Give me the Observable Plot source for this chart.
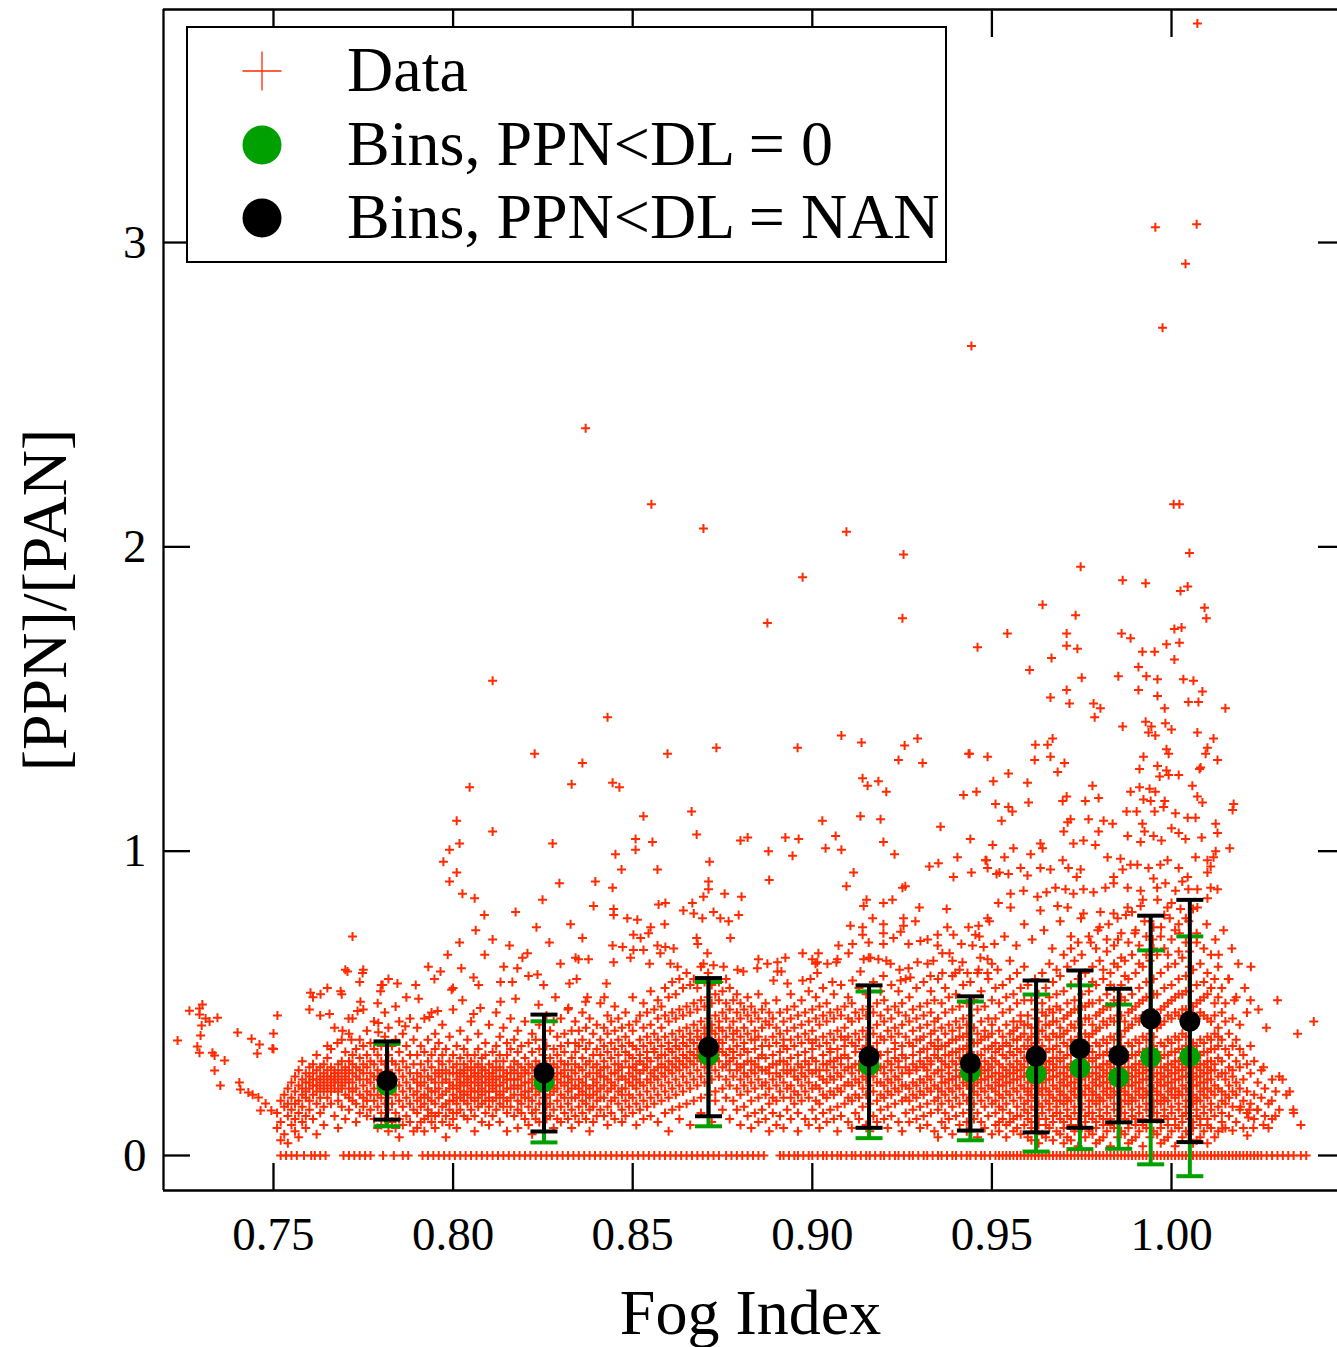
<!DOCTYPE html>
<html><head><meta charset="utf-8">
<script src="https://cdn.jsdelivr.net/npm/d3@7"></script>
<script src="https://cdn.jsdelivr.net/npm/@observablehq/plot@0.6"></script>
<style>
html,body{margin:0;padding:0;background:#fff;}
#wrap{position:relative;width:1337px;height:1347px;overflow:hidden;}
#legend{position:absolute;left:0;top:0;}
</style></head><body><div id="wrap"></div>
<script>
// ---------- axis / labels ----------
const xTicks = [0.75, 0.80, 0.85, 0.90, 0.95, 1.00];
const yTicks = [0, 1, 2, 3];
const xDomain = [0.71938, 1.04621];
const yDomain = [-0.1150, 3.7657];
const xTitle = "Fog Index";
const yTitle = "[PPN]/[PAN]";
const legendLabels = ["Data", "Bins, PPN<DL = 0", "Bins, PPN<DL = NAN"];

// ---------- binned statistics ----------
const binX     = [0.7816, 0.8253, 0.8711, 0.9158, 0.9440, 0.9623, 0.9745, 0.9853, 0.9942, 1.0051];
const nanMean  = [0.246, 0.272, 0.356, 0.325, 0.303, 0.326, 0.351, 0.329, 0.449, 0.441];
const nanLo    = [0.118, 0.079, 0.129, 0.091, 0.082, 0.076, 0.091, 0.109, 0.113, 0.044];
const nanHi    = [0.375, 0.463, 0.583, 0.559, 0.523, 0.575, 0.608, 0.548, 0.788, 0.840];
const zeroMean = [0.230, 0.241, 0.329, 0.296, 0.274, 0.268, 0.287, 0.257, 0.323, 0.325];
const zeroLo   = [0.096, 0.043, 0.096, 0.057, 0.050, 0.013, 0.021, 0.022, -0.029, -0.068];
const zeroHi   = [0.367, 0.441, 0.570, 0.539, 0.506, 0.529, 0.559, 0.496, 0.674, 0.720];

// ---------- raw data: left tail ----------
const leftTail = [[0.7233,0.378],[0.7266,0.476],[0.7294,0.483],[0.7294,0.463],[0.7302,0.496],[0.7300,0.427],[0.7311,0.450],[0.7297,0.394],[0.7288,0.358],[0.7294,0.338],[0.7322,0.440],[0.7344,0.453],[0.7330,0.338],[0.7336,0.329],[0.7364,0.312],[0.7336,0.279],[0.7352,0.230],[0.7400,0.404],[0.7439,0.384],[0.7461,0.365],[0.7455,0.335],[0.7497,0.352],[0.7500,0.401],[0.7405,0.240],[0.7408,0.217],[0.7430,0.207],[0.7442,0.200],[0.7458,0.191],[0.7478,0.171],[0.7494,0.148],[0.7464,0.148]];

// ---------- raw data: sparse points above the main cloud ----------
const sparseHigh = [[1.0072,3.72],[0.9955,3.05],[1.0070,3.06],[1.0039,2.93],[0.9975,2.72],[0.9443,2.66],[0.8369,2.39],[0.8552,2.14],[1.0006,2.14],[1.0022,2.14],[0.8697,2.06],[0.9095,2.05],[1.005,1.98],[0.9254,1.975],[0.9747,1.935],[0.8973,1.90],[0.9864,1.89],[0.9928,1.88],[1.0025,1.855],[1.0045,1.87],[1.0092,1.80],[1.0097,1.765],[0.9641,1.81],[0.9251,1.765],[0.9733,1.775],[0.8875,1.75],[0.9543,1.715],[0.9708,1.715],[0.9708,1.675],[0.9738,1.665],[0.946,1.67],[0.9666,1.635],[0.9605,1.595],[0.9861,1.715],[0.9886,1.70],[1.0008,1.73],[1.0028,1.735],[0.9919,1.655],[0.9953,1.655],[0.9986,1.68],[1.0022,1.685],[1.0008,1.63],[0.9908,1.605],[0.811,1.56],[0.9852,1.575],[0.993,1.575],[0.9961,1.565],[1.0033,1.565],[1.0061,1.56],[0.975,1.57],[0.9708,1.53],[0.9663,1.505],[0.9716,1.485],[0.9783,1.485],[0.9802,1.47],[0.9786,1.44],[0.9908,1.53],[0.9961,1.51],[0.9981,1.47],[1.0047,1.49],[1.0075,1.49],[1.0086,1.525],[1.015,1.47],[0.843,1.44]];

const sparseMid = [[0.9864,1.41],[0.9928,1.425],[0.9944,1.41],[0.9983,1.42],[1.0,1.40],[0.9936,1.39],[0.9955,1.38],[1.0072,1.39],[1.0117,1.37],[1.01,1.34],[1.0128,1.30],[1.0095,1.32],[1.0081,1.275],[0.9986,1.335],[0.9992,1.32],[0.9922,1.31],[0.9911,1.27],[0.9961,1.28],[0.9986,1.265],[0.9967,1.245],[0.9992,1.25],[1.002,1.25],[1.0078,1.27],[0.9438,1.32],[0.9488,1.31],[0.9621,1.35],[0.9655,1.35],[0.9669,1.37],[0.9619,1.30],[0.9663,1.31],[0.9702,1.29],[0.9683,1.26],[0.9504,1.23],[0.9546,1.255],[0.9599,1.225],[0.9421,1.185],[0.9457,1.195],[0.951,1.155],[0.9546,1.145],[0.9557,1.13],[0.9527,1.10],[0.9602,1.16],[0.9708,1.18],[0.9697,1.165],[0.976,1.165],[0.978,1.215],[0.9797,1.175],[0.9886,1.195],[0.9911,1.21],[0.9939,1.205],[0.9955,1.195],[0.9922,1.17],[0.9942,1.165],[0.9981,1.165],[1.0058,1.215],[1.0072,1.18],[1.0086,1.16],[1.0173,1.155],[1.017,1.135],[0.9875,1.13],[0.9903,1.13],[0.9919,1.09],[0.9953,1.13],[0.9978,1.145],[1.0011,1.125],[1.0045,1.11],[1.0067,1.11],[1.0123,1.09],[1.0128,1.06],[1.0084,1.045],[1.0039,1.04],[1.002,1.06],[1.0,1.075],[0.9972,1.035],[0.995,1.05],[0.9925,1.065],[0.9914,1.03],[0.9878,1.05],[0.9797,1.065],[0.9769,1.105],[0.9811,1.10],[0.9836,1.09],[0.9727,1.025],[0.9755,1.035],[0.9788,1.02],[0.9719,1.105],[0.9711,1.095],[0.97,1.065],[0.9635,1.025],[0.9641,1.01],[0.9137,1.357],[0.9257,1.347],[0.9293,1.37],[0.924,1.30],[0.9307,1.29],[0.9435,1.32],[0.8227,1.32],[0.836,1.29],[0.8597,1.32],[0.8733,1.34],[0.8959,1.34],[0.9081,1.38],[0.833,1.22],[0.8444,1.225],[0.8463,1.21],[0.853,1.115],[0.8664,1.13],[0.8678,1.055],[0.8508,1.04],[0.8555,1.03],[0.8508,1.005],[0.8277,1.025],[0.88,1.035],[0.882,1.045],[0.8878,1.0],[0.8925,1.045],[0.8962,1.04],[0.9028,1.10],[0.9065,1.05],[0.9037,1.01],[0.9081,1.005],[0.9134,1.115],[0.919,1.105],[0.914,1.24],[0.9154,1.215],[0.9184,1.23],[0.9206,1.195],[0.9198,1.03],[0.9357,1.08],[0.944,1.04],[0.9502,1.02],[0.8046,1.21],[0.8110,1.065],[0.801,1.10],[0.8018,1.025],[0.799,1.005]];

const sparseLow = [[0.8452,0.99],[0.8714,0.965],[0.8469,0.94],[0.8569,0.94],[0.8296,0.895],[0.8396,0.90],[0.8444,0.88],[0.8711,0.90],[0.8711,0.875],[0.8756,0.86],[0.8803,0.85],[0.8697,0.85],[0.8391,0.82],[0.8447,0.81],[0.8447,0.79],[0.8327,0.76],[0.836,0.715],[0.8444,0.69],[0.8349,0.645],[0.8377,0.645],[0.8572,0.825],[0.8591,0.83],[0.8666,0.83],[0.867,0.795],[0.8641,0.805],[0.8725,0.80],[0.8744,0.78],[0.8694,0.78],[0.8485,0.78],[0.8513,0.775],[0.855,0.75],[0.8589,0.76],[0.8767,0.77],[0.8795,0.79],[0.8502,0.725],[0.8522,0.715],[0.8544,0.73],[0.8678,0.715],[0.8681,0.695],[0.8772,0.715],[0.8472,0.685],[0.8502,0.675],[0.853,0.675],[0.8569,0.69],[0.8591,0.685],[0.8614,0.68],[0.8708,0.665],[0.8577,0.665],[0.8447,0.635],[0.8494,0.65],[0.8547,0.63],[0.8605,0.63],[0.8625,0.62],[0.8697,0.63],[0.8725,0.625],[0.8753,0.62],
[0.8945,0.985],[0.888,0.905],[0.9115,0.93],[0.9095,0.885],[0.9229,0.99],[0.9404,0.98],[0.9482,0.97],[0.9326,0.95],[0.9351,0.96],[0.9393,0.915],[0.9443,0.93],[0.9488,0.945],[0.9513,0.925],[0.9251,0.88],[0.9259,0.885],[0.9298,0.815],[0.9374,0.81],[0.9518,0.83],[0.9287,0.77],[0.9254,0.78],[0.9254,0.755],[0.9246,0.735],[0.9198,0.76],[0.9168,0.78],[0.914,0.75],[0.9106,0.755],[0.9151,0.84],[0.9143,0.82],[0.9198,0.83],[0.9223,0.84],[0.9376,0.75],[0.9435,0.75],[0.9463,0.755],[0.9493,0.77],[0.9349,0.725],[0.9393,0.725],[0.9454,0.725],[0.9465,0.72],[0.9226,0.715],[0.9198,0.73],[0.9198,0.695],[0.914,0.725],[0.9112,0.695],[0.9073,0.69],[0.9101,0.665],[0.9157,0.70],[0.9268,0.695],[0.9301,0.705],[0.9321,0.71],[0.9349,0.69],[0.9382,0.665],[0.9415,0.695],[0.9446,0.69],[0.9477,0.685],[0.9507,0.695],[0.9362,0.665],[0.9337,0.64],[0.939,0.64],[0.9418,0.635],[0.9468,0.65],[0.9488,0.645],[0.9293,0.635],[0.9321,0.63],[0.9268,0.615],[0.9243,0.61],[0.9218,0.63],[0.9206,0.64],[0.9184,0.645],[0.9157,0.65],[0.9143,0.645],[0.907,0.645],[0.9067,0.635],[0.9014,0.635],[0.9,0.645],[0.9017,0.665],[0.8973,0.665],[0.9009,0.63],[0.9042,0.63],[0.8903,0.635],[0.8925,0.65],[0.885,0.645],[0.8875,0.63],[0.8847,0.615],[0.8903,0.605],[0.8914,0.605],[0.8792,0.61],[0.8808,0.605],[0.8892,0.575],[0.8931,0.565],[0.8973,0.575],[0.8995,0.58],[0.9014,0.60],[0.9056,0.57],[0.9112,0.575],[0.9134,0.605],[0.9162,0.65],[0.9198,0.59],[0.9246,0.575],[0.9273,0.585],[0.9329,0.59],[0.9362,0.60],[0.9398,0.60],[0.9432,0.60],[0.9463,0.61],[0.9488,0.60],[0.9516,0.61],
[0.9521,0.93],[0.9546,0.925],[0.958,0.945],[0.9599,0.92],[0.9635,0.945],[0.9663,0.94],[0.9697,0.97],[0.9713,0.945],[0.9747,0.94],[0.9736,0.915],[0.9822,0.98],[0.9858,0.975],[0.9839,0.915],[0.9864,0.94],[0.9886,0.955],[0.9905,0.955],[0.9936,0.945],[0.9969,0.955],[0.9989,0.97],[1.002,0.945],[1.0045,0.915],[1.0067,0.98],[1.01,0.97],[1.0117,0.98],[1.0109,0.95],[1.0123,1.0],[1.0162,1.01],[1.01,0.93],[1.0128,0.875],[1.0109,0.88],[1.0072,0.875],[1.0047,0.875],[1.0011,0.87],[0.9983,0.895],[0.995,0.91],[0.9914,0.87],[0.9878,0.88],[0.9839,0.895],[0.9816,0.88],[0.9783,0.865],[0.9755,0.875],[0.9727,0.86],[0.9705,0.875],[0.9677,0.88],[0.9652,0.865],[0.9627,0.85],[0.9588,0.87],[0.9552,0.86],[0.9488,0.78],[0.9552,0.815],[0.9635,0.805],[0.9683,0.82],[0.9711,0.815],[0.9755,0.795],[0.9802,0.80],[0.9839,0.795],[0.9878,0.815],[0.9914,0.82],[0.9961,0.84],[0.9989,0.815],[1.0025,0.81],[1.0072,0.815],[1.01,0.845],[0.9608,0.99],[0.956,1.01],[0.9535,0.98],[0.9485,0.97],
[0.9535,0.72],[0.9568,0.69],[0.959,0.76],[0.9612,0.71],[0.9645,0.74],[0.9668,0.68],[0.969,0.77],[0.972,0.72],[0.9748,0.78],[0.9775,0.70],[0.9795,0.74],[0.9825,0.76],[0.9851,0.71],[0.9873,0.79],[0.9898,0.73],[0.9925,0.77],[0.9948,0.71],[0.9971,0.75],[0.9995,0.78],[1.0022,0.73],[1.0048,0.77],[1.0071,0.72],[1.0098,0.76],[1.0122,0.71],[1.0145,0.74],[1.0168,0.68],[1.0186,0.63],[1.0131,0.66],[1.0158,0.58],[1.0204,0.55],[1.0221,0.62],[1.0175,0.51],[1.0242,0.48],[1.0264,0.42],
[1.0396,0.44],[1.0351,0.40],[1.0295,0.51],[1.022,0.51],[1.0256,0.29],[1.0309,0.25],[1.0329,0.21],[1.0279,0.18],[1.0192,0.16],[1.0217,0.15],[1.0239,0.15],[1.0214,0.125],[1.0256,0.10],[1.0289,0.13],[1.0339,0.15],[1.0228,0.09],[1.0211,0.066],[1.017,0.082],[1.0142,0.089],
[0.8207,0.665],[0.8341,0.65],[0.8179,0.615],[0.8235,0.595],[0.8210,0.59],[0.8132,0.57],[0.8165,0.57],[0.8252,0.56],[0.8057,0.585],[0.8071,0.56],[0.8324,0.565],[0.8344,0.58],[0.7965,0.605],[0.8023,0.615],[0.80,0.55],[0.7996,0.545],[0.8427,0.565],[0.8421,0.52],[0.8374,0.52],[0.8369,0.505],[0.8321,0.485],[0.8285,0.52],[0.8238,0.495],[0.8174,0.515],[0.8132,0.505],[0.8076,0.485],[0.8057,0.465],[0.8026,0.51],[0.7957,0.475],[0.7934,0.455],[0.7904,0.515],[0.7845,0.565],[0.7804,0.56],[0.7798,0.54],[0.7748,0.60],[0.7706,0.605],[0.7603,0.535],[0.7631,0.53],[0.7687,0.54],[0.7742,0.505],[0.7734,0.475],[0.7709,0.45],[0.7867,0.425],[0.7792,0.435],[0.7792,0.405],[0.7656,0.465],[0.7692,0.41],[0.7678,0.37],[0.7717,0.38],[0.765,0.36],[0.7511,0.46],[0.75,0.35],[0.772,0.72],
[0.7973,0.965],[0.799,0.90],[0.8026,0.86],[0.806,0.845],[0.801,0.93],[0.8110,0.71],[0.8157,0.69],[0.8193,0.65],[0.8063,0.74],[0.8088,0.66],[0.8141,0.62],[0.8268,0.70],[0.8232,0.75],[0.8174,0.80],[0.8249,0.84],[0.8299,0.63],[0.8087,0.79],[0.8018,0.70],[0.7985,0.66],[0.7948,0.58],[0.7896,0.56],[0.7931,0.62]];

// ---------- raw data: main cloud, one line per Fog Index column ----------
// first number: Fog Index x 1000; the rest: [PPN]/[PAN] x 100
const cloudColumns = `
751 14 9
752 18 11 5
753 20 16 7
754 22 13 4 17
755 19 24 10 15
756 21 26 12 8 17
757 23 18 14 28 6
758 25 20 16 11 22 31
759 24 19 27 13 21 9
760 26 22 18 29 15 24 48
761 23 27 20 25 12 30 52
762 25 21 28 17 23 33 7
763 22 26 24 19 29 14 46
764 27 23 25 21 30 16 10
765 24 28 22 26 19 32 55
766 26 23 29 25 21 17 35
767 25 28 22 27 24 13 42
768 27 24 26 30 21 18 9
769 23 28 25 22 31 16 38 53
770 26 24 29 27 20 34 12 61
771 25 22 28 19 31 15 40
772 24 27 21 30 18 33 45
773 22 26 29 17 35 11
774 25 20 28 32 14 38 57
775 23 27 19 30 16 36 61 48
776 21 25 29 18 33 13 41
777 24 20 27 31 15 37
778 22 26 18 30 12 35 44
779 20 25 28 16 33 9 50
780 23 19 27 31 14 36 56 10
781 21 26 17 30 12 39 47
782 24 19 28 15 33 8 42 58
783 22 27 17 31 11 36
784 20 25 14 30 9 38 49
785 23 18 28 12 34 44 6
786 21 26 16 31 10 40
787 19 24 13 29 36 52
788 22 17 27 11 33 45
789 20 25 15 30 38 8
790 14 21 27 33 9 18 42 24
791 16 23 30 11 36 19 26
792 12 20 28 34 17 45 24 8
793 15 22 31 26 13 38 19
794 18 25 11 33 21 29 47 14
795 13 21 27 35 17 24 9 40
796 19 26 14 31 22 37 28
797 16 24 30 11 20 43 27 33
798 21 17 28 35 13 25 6
799 18 24 31 15 22 39 27 10
800 20 27 14 33 23 18 29 48 12
801 22 17 30 25 19 36 27 14 9
802 24 19 28 21 32 15 26 41 23
803 21 27 18 30 24 13 35 28 20
804 25 20 29 23 17 33 26 12 38
805 22 28 19 26 31 15 24 44 21
806 26 21 29 18 24 33 13 27 8
807 23 19 27 30 21 16 35 25 40
808 20 26 22 29 17 32 24 11 28
809 24 18 28 21 33 26 14 37
810 21 27 19 25 30 16 23 43 10
811 26 22 29 18 24 34 13 27
812 23 19 28 31 21 15 36 25 47
813 20 26 17 29 23 33 11 39
814 24 21 28 16 31 19 42 26
815 22 27 18 25 33 14 37 8
816 19 25 29 16 22 35 27 45
817 25 20 28 13 31 23 38
818 22 18 27 30 15 25 41 9 34
819 20 26 14 29 23 36 17
820 24 19 28 12 32 21 44 27
821 21 27 16 30 24 37 10 19
822 18 25 29 22 14 34 40 7
823 23 20 28 15 31 26 38 12
824 26 21 17 30 11 35 24 43
825 22 27 14 29 19 33 8 38
826 19 24 30 16 27 36 12 46
827 24 20 28 13 32 22 41 17
828 21 26 15 30 23 35 9 44
829 25 18 29 12 33 22 39 27
830 20 27 16 31 24 36 11 45
831 23 19 28 14 34 26 40 30
832 26 21 17 30 12 37 24 48
833 22 28 15 32 25 41 19 9
834 19 27 23 34 13 30 44 37
835 25 20 29 16 36 22 41 11
836 21 28 14 32 24 38 18 47
837 23 30 17 26 35 12 42 20
838 27 19 31 22 37 15 45 8
839 20 25 33 16 29 40 23 11
840 24 30 18 35 21 43 13 27
841 22 28 33 15 26 38 19 50
842 26 19 31 23 36 13 42 29
843 21 29 16 34 25 40 10 46
844 27 22 32 18 37 24 44 14
845 23 30 19 35 27 41 12 49
846 28 21 33 17 38 25 45 30
847 22 29 15 36 26 42 11 20
848 25 31 18 34 22 39 47 13
849 20 27 33 16 29 43 24 37
850 26 32 19 36 23 41 14 52 29
851 22 28 35 17 30 44 25 10
852 27 33 20 38 24 46 15 31
853 23 30 36 18 28 42 12 50
854 29 21 34 25 39 16 47 32
855 24 31 37 19 27 43 13 54
856 28 34 22 40 26 48 17 35
857 25 32 20 38 29 45 11 51
858 30 23 36 27 42 18 49 33
859 26 33 21 39 29 46 14 55
860 31 24 37 28 44 19 52 35 8
861 27 34 22 40 30 47 15 57
862 32 25 38 29 45 20 53 36
863 28 35 23 41 31 48 16 58 12
864 33 26 39 30 46 21 55 37
865 29 36 24 42 32 49 17 60
866 34 27 40 31 47 22 56 38 10
867 30 37 25 43 33 50 18 58
868 35 28 41 32 48 23 55 39
869 31 38 26 44 34 51 19 62 14
870 36 29 42 33 49 24 57 40
871 32 39 27 45 35 52 20 60
872 37 30 43 34 50 25 56 41 11
873 33 40 28 46 36 53 21 18
874 38 31 44 35 51 26 57 42
875 34 41 29 47 37 22 15 54
876 30 39 25 45 33 50 19 58
877 35 28 42 31 48 23 12 55
878 32 38 26 44 34 51 18 40
879 28 36 22 41 30 47 15 53
880 33 25 39 29 45 20 10 50
881 30 37 23 42 27 48 16 35
882 26 34 21 40 31 46 13 52
883 31 24 38 28 44 18 9 49
884 27 35 22 41 30 47 14 38
885 32 25 39 29 45 19 11 53
886 28 36 23 42 33 48 15
887 24 32 20 38 28 44 12 50
888 29 22 36 27 43 17 8 47
889 25 33 19 39 30 45 14
890 30 23 37 27 42 18 10 51
891 26 34 21 40 31 47 13
892 31 24 38 28 44 19 9 36
893 27 35 22 41 30 48 15
894 23 32 19 38 28 45 12 53
895 28 21 36 26 42 17 49
896 25 33 20 39 30 46 14 8
897 29 23 37 27 43 18 51
898 26 34 21 40 31 47 12
899 30 24 38 28 44 19 10 54
900 27 35 22 41 32 48 15 37
901 23 31 18 38 28 45 12 52
902 28 22 36 26 43 17 9 49
903 25 33 20 39 30 46 14 55
904 30 24 37 28 44 19 11 50
905 26 34 21 40 31 47 15 35
906 31 25 38 29 45 20 12 53
907 27 35 22 41 32 48 16 8
908 32 26 39 30 46 21 13 56
909 28 36 23 42 33 49 17 38
910 24 32 19 39 29 45 11 52
911 29 23 37 27 44 18 9 50
912 25 34 20 40 30 47 14 36
913 30 24 38 28 45 19 12 55
914 26 35 22 41 31 48 16
915 31 25 39 29 46 20 10 53 36
916 27 36 23 42 33 49 17 8
917 32 26 40 30 47 21 13 57
918 28 37 24 43 34 50 18 11
919 24 33 20 39 29 46 15 54
920 29 23 38 27 44 19 12 51
921 25 34 21 41 31 48 16 9
922 30 24 39 28 45 20 13 56
923 26 35 22 42 32 49 17 37
924 31 25 40 29 47 21 11 54
925 27 36 23 43 33 50 18 8
926 23 32 19 39 29 46 14 58
927 28 22 37 27 44 18 11 52
928 24 33 20 41 30 48 15 36
929 29 23 38 28 45 19 12 55
930 25 34 21 42 31 49 16 9 38
931 30 24 39 29 46 20 13 57 35
932 26 35 22 43 32 50 17 10 28
933 31 25 40 30 47 21 14 54 37
934 27 36 23 44 33 51 18 8 41
935 22 32 19 38 28 45 15 58 35 6
936 28 21 36 26 42 17 11 50 31 24
937 24 33 20 40 30 47 14 55 36 9
938 29 22 37 27 43 18 12 52 33 25
939 25 34 21 41 31 48 16 7 38 59
940 30 23 38 28 44 19 13 53 34 26
941 26 35 22 42 32 49 17 10 39 61
942 31 24 39 29 45 20 14 56 35 27
943 27 36 23 43 33 50 18 8 40 11
944 22 32 19 38 28 46 15 57 34 25
945 28 21 37 26 42 17 12 51 31 23
946 24 33 20 40 30 48 14 6 37 60
947 29 22 38 27 44 18 11 54 33 25
948 25 35 21 41 31 49 16 9 39 28
949 30 23 39 28 45 19 13 58 35 26
950 26 36 22 43 32 51 17 7 40 29 63
951 21 31 18 37 27 45 14 55 34 24 10
952 27 20 35 25 41 16 11 50 30 23 8
953 23 33 19 39 29 47 15 56 36 26 12
954 28 21 37 26 43 17 10 52 32 24 6
955 24 34 20 40 30 48 14 58 36 27 11 64
956 29 22 38 27 44 18 12 53 33 25 8 41
957 25 35 21 42 31 50 16 9 38 28 60 13
958 30 23 39 28 46 19 13 55 34 26 7 44
959 26 36 22 43 32 51 17 10 40 29 62 15
960 21 31 18 38 27 46 14 56 35 24 6 12 43 20
961 27 20 36 25 42 16 11 51 31 22 5 29 39 9
962 23 33 19 40 29 48 15 58 37 26 8 13 45 18
963 28 21 38 26 44 17 10 53 33 24 4 30 41 12
964 24 34 20 41 30 50 14 60 36 27 7 16 47 22
965 29 22 39 27 46 18 12 55 34 25 6 31 43 10
966 25 35 21 43 31 52 15 9 38 28 63 17 48 20
967 30 23 40 28 47 19 13 57 35 26 5 32 44 11
968 26 36 22 44 32 53 16 8 39 29 61 18 49 14
969 21 31 18 39 27 48 14 59 34 24 7 12 42 20
970 27 20 37 25 45 17 11 54 32 23 4 29 40 9 66
971 23 33 19 41 29 50 15 62 36 26 6 13 46 18
972 28 21 38 26 47 18 10 56 33 24 5 30 43 12 68
973 24 34 20 42 30 51 14 64 37 27 8 16 48 22
974 29 22 39 27 48 19 12 58 34 25 3 31 44 10 70
975 25 35 21 43 31 53 15 9 38 28 66 17 49 20
976 30 23 40 28 49 20 13 60 35 26 6 32 45 11
977 26 36 22 45 32 54 16 8 39 29 72 18 50 14
978 21 31 18 40 27 50 14 62 34 24 7 12 43 20 57
979 27 20 37 25 46 17 11 56 32 23 4 29 41 9 68
980 23 33 19 42 29 51 15 64 36 26 5 13 47 18 75
981 28 21 38 26 48 18 10 58 33 24 6 30 44 12 61
982 24 34 20 43 30 53 14 67 37 27 8 16 49 22 71
983 29 22 39 27 49 19 12 60 34 25 3 31 45 10 56
984 25 35 21 44 31 55 15 9 38 28 69 17 51 20 63
985 30 23 40 28 50 20 13 62 35 26 6 32 46 11 78
986 26 36 22 46 32 56 16 8 39 29 73 18 52 14 65
987 21 31 18 41 27 51 14 64 34 24 7 12 44 20 59
988 27 20 37 25 47 17 11 58 32 23 4 29 42 9 70
989 23 33 19 43 29 53 15 66 36 26 5 13 48 18 80
990 28 21 38 26 49 18 10 60 33 24 6 30 45 12 74
991 24 34 20 44 30 55 14 69 37 27 8 16 50 22 63
992 29 22 39 27 51 19 12 62 34 25 3 31 46 10 84
993 25 35 21 45 31 57 15 9 38 28 72 17 52 20 66
994 30 23 40 28 52 20 13 64 35 26 6 32 47 11 77
995 26 36 22 47 32 58 16 8 39 29 75 18 53 14 68
996 21 31 18 42 27 53 14 66 34 24 7 12 45 20 88
997 27 20 37 25 48 17 11 60 32 23 4 29 43 9 72
998 23 33 19 44 29 55 15 68 36 26 5 13 49 18 79
999 28 21 38 26 50 18 10 62 33 24 6 30 46 12 66
1000 24 34 20 45 30 56 14 71 37 27 8 16 51 22 83
1001 29 22 39 27 52 19 12 63 34 25 3 31 47 10 74
1002 25 35 21 46 31 58 15 9 38 28 76 17 53 20 67
1003 30 23 40 28 53 20 13 65 35 26 6 32 48 11 90
1004 26 36 22 48 32 59 16 8 39 29 78 18 54 14 70
1005 21 31 18 43 27 54 14 67 34 24 7 12 46 20 62
1006 27 20 37 25 49 17 11 61 32 23 4 29 44 9 81
1007 23 33 19 45 29 56 15 70 36 26 5 13 50 18 73
1008 28 21 38 26 51 18 10 63 33 24 6 30 47 12
1009 24 34 20 46 30 57 14 68 37 27 8 16 52 22
1010 29 22 39 27 53 19 12 60 34 25 4 31 45 10
1011 25 35 21 44 31 55 15 9 38 28 66 17
1012 30 23 40 28 50 20 13 58 35 6 46
1013 26 36 22 42 32 52 16 8 39 62
1014 21 31 18 38 27 47 14 55 11
1015 27 20 35 25 44 17 9 50
1016 23 33 19 40 29 13 58
1017 28 21 36 26 45 16
1018 24 31 20 38 11 52
1019 29 22 35 15 43
1020 25 18 33 9
1021 21 30 14 47
1022 27 17 36
1023 20 12 31
1024 24 15
1025 19 28
1026 13 22
1027 17 9
1028 25 12
1029 21
1030 15 26
1032 20
1034 14
1036 10
`;

// ---------- raw data: values at exactly zero (Fog Index x 1000) ----------
const zeroRowX = [752,753.5,755,756.5,758.5,760.5,761.5,763,764.5,769.5,771,772.5,774,775.5,777,780.5,783.5,786,787.5,
791.5,793,794.5,796,797.5,799,800.5,802,803.5,805,806.5,808,809.5,811,812.5,814,815.5,817,818.5,820,821.5,823,824.5,826,827.5,829,830.5,832,833.5,835,836.5,838,839.5,841,842.5,844,845.5,847,848.5,850,851.5,853,854.5,856,857.5,859,860.5,862,863.5,865,866.5,868,869.5,871,872.5,874,
876,877.5,879,880.5,882,883.5,885,886.5,
891,892,893.5,895,896,897.5,899,900,901.5,903,904,905.5,907,908,909.5,911,912,913.5,915,916,917.5,919,920,921.5,923,924,925.5,927,928,929.5,931,932,933.5,935,936,937.5,939,940,941.5,943,944,945.5,947,948,949.5,951,952,953,954,955,956,957,958,959,960,961,962,963,964,965,966,967,968,969,970,971,972,973,974,975,976,977,978,979,980,981,982,983,984,985,986,987,988,989,990,991,992,993,994,995,996,997,998,999,1000,1001,1002,1003,1004,1005,1006,1007,1008,1009,1010,1011,1012,1013,1014,1015,1016,1017,1018,1019,1020,1021,1022,1023,1024,1025,1026.5,1028,1029.5,1031,1032.5,1034,1036,1037.5];

// ---------- assemble tables ----------
const points = [];
for (const [x, y] of leftTail) points.push({x, y});
for (const line of cloudColumns.trim().split("\n")) {
  const v = line.trim().split(/\s+/).map(Number);
  for (let i = 1; i < v.length; i++) points.push({x: v[0] / 1000, y: v[i] / 100});
}
for (const [x, y] of sparseLow) points.push({x, y});
for (const [x, y] of sparseMid) points.push({x, y});
for (const [x, y] of sparseHigh) points.push({x, y});
for (const x of zeroRowX) points.push({x: x / 1000, y: 0});

const bins = binX.map((x, i) => ({x, nm: nanMean[i], nl: nanLo[i], nh: nanHi[i], zm: zeroMean[i], zl: zeroLo[i], zh: zeroHi[i]}));

const RED = "#ff2a00", GREEN = "#00a000", BLACK = "#000";
const plusSym = {draw(c) { c.moveTo(-4.5, 0); c.lineTo(4.5, 0); c.moveTo(0, -4.5); c.lineTo(0, 4.5); }};
const capSym = {draw(c) { c.moveTo(-13.5, 0); c.lineTo(13.5, 0); }};
const FONT = "'Liberation Serif', 'Times New Roman', serif";

const chart = Plot.plot({
  width: 1337, height: 1347,
  marginLeft: 163, marginRight: 0, marginTop: 9, marginBottom: 157,
  x: {domain: xDomain},
  y: {domain: yDomain},
  style: {fontFamily: FONT, background: "#fff", color: "#000"},
  marks: [
    Plot.dot(points, {x: "x", y: "y", symbol: plusSym, stroke: RED, strokeWidth: 2, fill: "none"}),
    Plot.ruleX(bins, {x: "x", y1: "zl", y2: "zh", stroke: GREEN, strokeWidth: 4}),
    Plot.dot(bins, {x: "x", y: "zl", symbol: capSym, stroke: GREEN, strokeWidth: 4, fill: "none"}),
    Plot.dot(bins, {x: "x", y: "zh", symbol: capSym, stroke: GREEN, strokeWidth: 4, fill: "none"}),
    Plot.dot(bins, {x: "x", y: "zm", r: 10.5, fill: GREEN, stroke: "none"}),
    Plot.ruleX(bins, {x: "x", y1: "nl", y2: "nh", stroke: BLACK, strokeWidth: 4}),
    Plot.dot(bins, {x: "x", y: "nl", symbol: capSym, stroke: BLACK, strokeWidth: 4, fill: "none"}),
    Plot.dot(bins, {x: "x", y: "nh", symbol: capSym, stroke: BLACK, strokeWidth: 4, fill: "none"}),
    Plot.dot(bins, {x: "x", y: "nm", r: 10.5, fill: BLACK, stroke: "none"}),
    // inward ticks
    Plot.axisX(xTicks, {anchor: "bottom", tickSize: -27, strokeWidth: 2.3, fill: "none", label: null}),
    Plot.axisX(xTicks, {anchor: "top", tickSize: -27, strokeWidth: 2.3, fill: "none", label: null}),
    Plot.axisY(yTicks, {anchor: "left", tickSize: -27, strokeWidth: 2.3, fill: "none", label: null}),
    Plot.axisY(yTicks, {anchor: "right", tickSize: -20, strokeWidth: 2.3, fill: "none", label: null}),
    // tick labels
    Plot.axisX(xTicks, {anchor: "bottom", tickSize: 0, tickPadding: 26, tickFormat: d3.format(".2f"), fontSize: 47, label: null}),
    Plot.axisY(yTicks, {anchor: "left", tickSize: 0, tickPadding: 17, tickFormat: d3.format("d"), fontSize: 47, label: null}),
    // frame (left, bottom, top)
    Plot.ruleX([xDomain[0]], {stroke: BLACK, strokeWidth: 2.3}),
    Plot.ruleY([yDomain[0], yDomain[1]], {stroke: BLACK, strokeWidth: 2.3}),
    // axis titles
    Plot.text([xTitle], {frameAnchor: "bottom", dy: 123, fontSize: 64, lineAnchor: "middle", textAnchor: "middle", fill: BLACK}),
    Plot.text([yTitle], {frameAnchor: "left", dx: -118, rotate: -90, fontSize: 64, lineAnchor: "middle", textAnchor: "middle", fill: BLACK})
  ]
});
const wrap = document.getElementById("wrap");
wrap.appendChild(chart);

// ---------- legend (overlaid box) ----------
const NS = "http://www.w3.org/2000/svg";
const lg = document.createElementNS(NS, "svg");
lg.setAttribute("id", "legend");
lg.setAttribute("width", 1000); lg.setAttribute("height", 300);
const el = (tag, attrs, text) => { const e = document.createElementNS(NS, tag); for (const k in attrs) e.setAttribute(k, attrs[k]); if (text != null) e.textContent = text; lg.appendChild(e); return e; };
el("rect", {x: 187, y: 27, width: 759, height: 235, fill: "#fff", stroke: "#000", "stroke-width": 2});
const rowBase = [91, 165, 238];
el("path", {d: "M242.5,71H281.5M262,51.5V90.5", stroke: RED, "stroke-width": 1.3, fill: "none"});
el("circle", {cx: 262, cy: 145, r: 19.5, fill: GREEN});
el("circle", {cx: 262, cy: 218, r: 19.5, fill: BLACK});
legendLabels.forEach((t, i) => el("text", {x: 347, y: rowBase[i], "font-size": 64, "font-family": FONT, fill: "#000"}, t));
wrap.appendChild(lg);
</script>
</body></html>
